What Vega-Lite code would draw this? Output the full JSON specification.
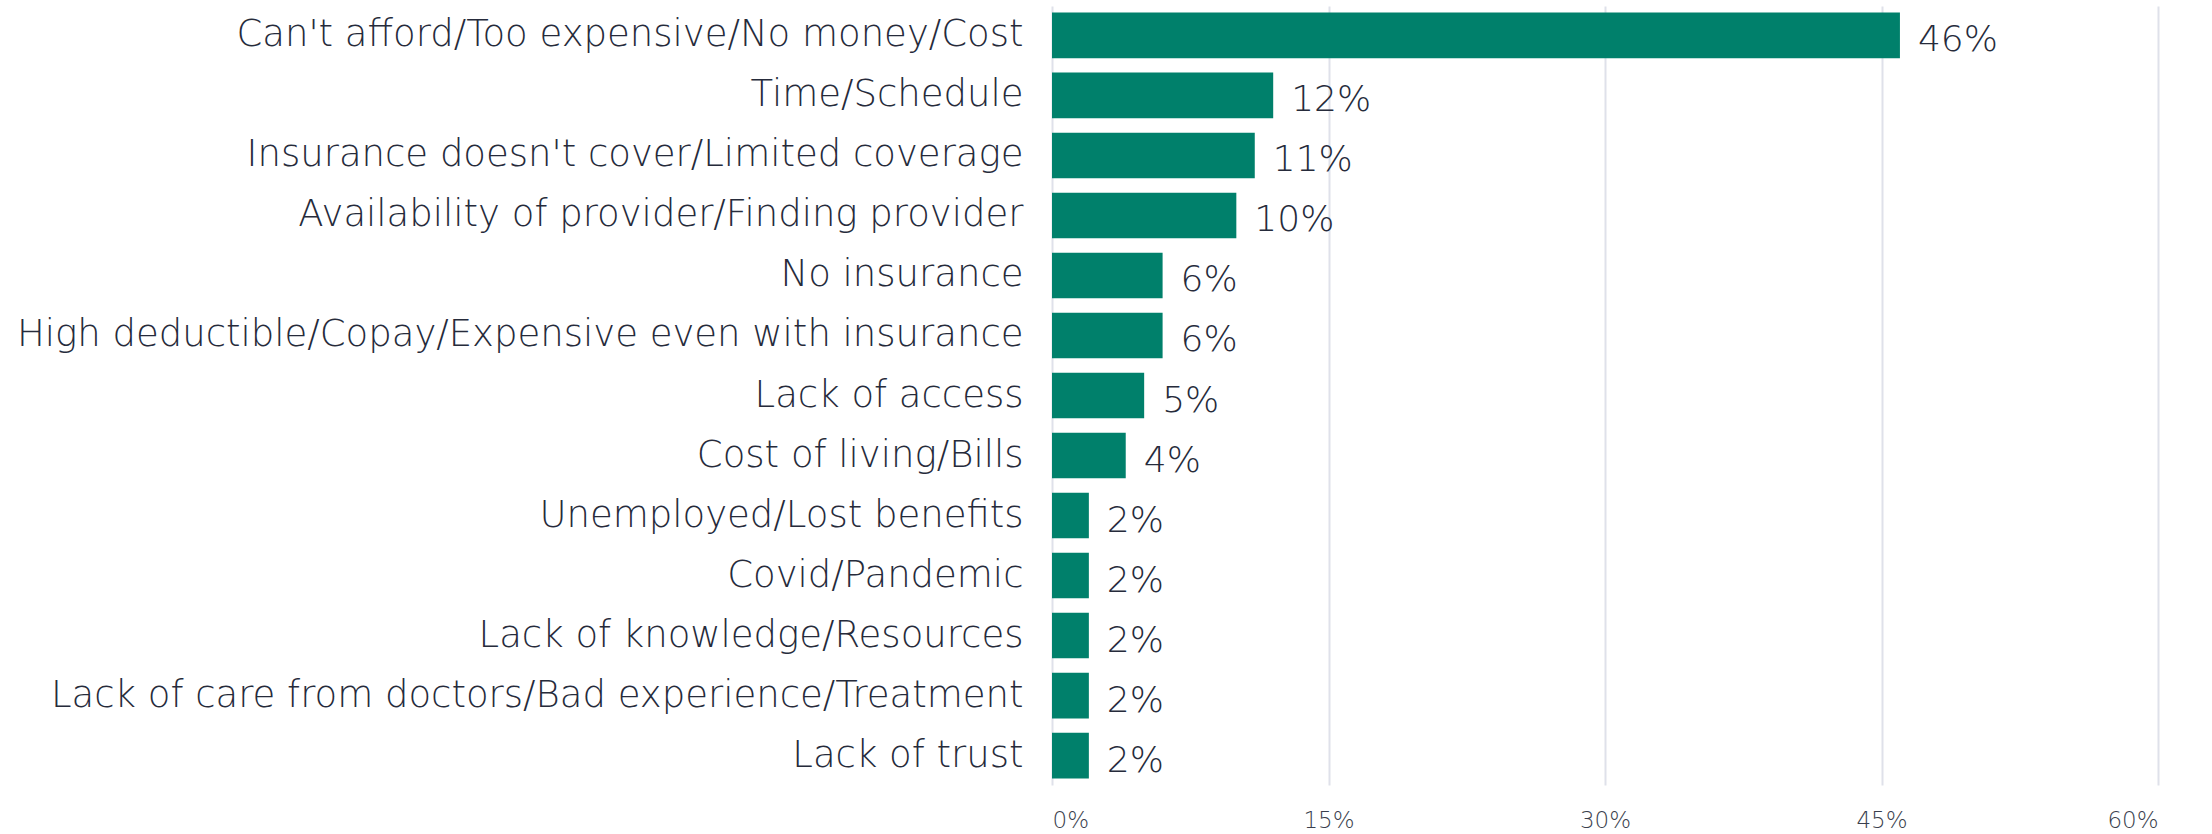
{
  "$schema": "https://vega.github.io/schema/vega-lite/v6.json",
  "width": 1106,
  "height": 779,
  "autosize": "none",
  "padding": {"left": 1052, "top": 6, "right": 54, "bottom": 49},
  "background": "white",
  "config": {"view": {"stroke": null}, "font": "DejaVu Sans"},
  "data": {"values": [
    {"reason": "Can't afford/Too expensive/No money/Cost", "pct": 46, "label": "46%"},
    {"reason": "Time/Schedule", "pct": 12, "label": "12%"},
    {"reason": "Insurance doesn't cover/Limited coverage", "pct": 11, "label": "11%"},
    {"reason": "Availability of provider/Finding provider", "pct": 10, "label": "10%"},
    {"reason": "No insurance", "pct": 6, "label": "6%"},
    {"reason": "High deductible/Copay/Expensive even with insurance", "pct": 6, "label": "6%"},
    {"reason": "Lack of access", "pct": 5, "label": "5%"},
    {"reason": "Cost of living/Bills", "pct": 4, "label": "4%"},
    {"reason": "Unemployed/Lost benefits", "pct": 2, "label": "2%"},
    {"reason": "Covid/Pandemic", "pct": 2, "label": "2%"},
    {"reason": "Lack of knowledge/Resources", "pct": 2, "label": "2%"},
    {"reason": "Lack of care from doctors/Bad experience/Treatment", "pct": 2, "label": "2%"},
    {"reason": "Lack of trust", "pct": 2, "label": "2%"}
  ]},
  "encoding": {
    "y": {
      "field": "reason", "type": "nominal", "sort": null,
      "scale": {"paddingInner": 0.24, "paddingOuter": 0.11},
      "axis": {"title": null, "ticks": false, "domain": false, "labelPadding": 29,
               "labelFontSize": 37, "labelFontWeight": 200, "labelColor": "#262b3b", "labelLimit": 1100, "labelFont": "DejaVu Sans"}
    },
    "x": {
      "field": "pct", "type": "quantitative",
      "scale": {"domain": [0, 60], "nice": false},
      "axis": {"title": null, "values": [0, 15, 30, 45, 60], "labelExpr": "datum.value + '%'",
               "grid": true, "gridColor": "#dfe1ea", "gridWidth": 2, "domain": false, "ticks": false,
               "labelFontSize": 23, "labelFontWeight": 200, "labelColor": "#3a3f4e", "labelPadding": 24, "labelFont": "DejaVu Sans"}
    }
  },
  "layer": [
    {"mark": {"type": "bar", "color": "#00806b"}},
    {"mark": {"type": "text", "align": "left", "baseline": "middle", "dx": 18, "dy": 5, "fontSize": 36, "fontWeight": 200, "color": "#262b3b", "font": "DejaVu Sans"},
     "encoding": {"text": {"field": "label"}}}
  ]
}
